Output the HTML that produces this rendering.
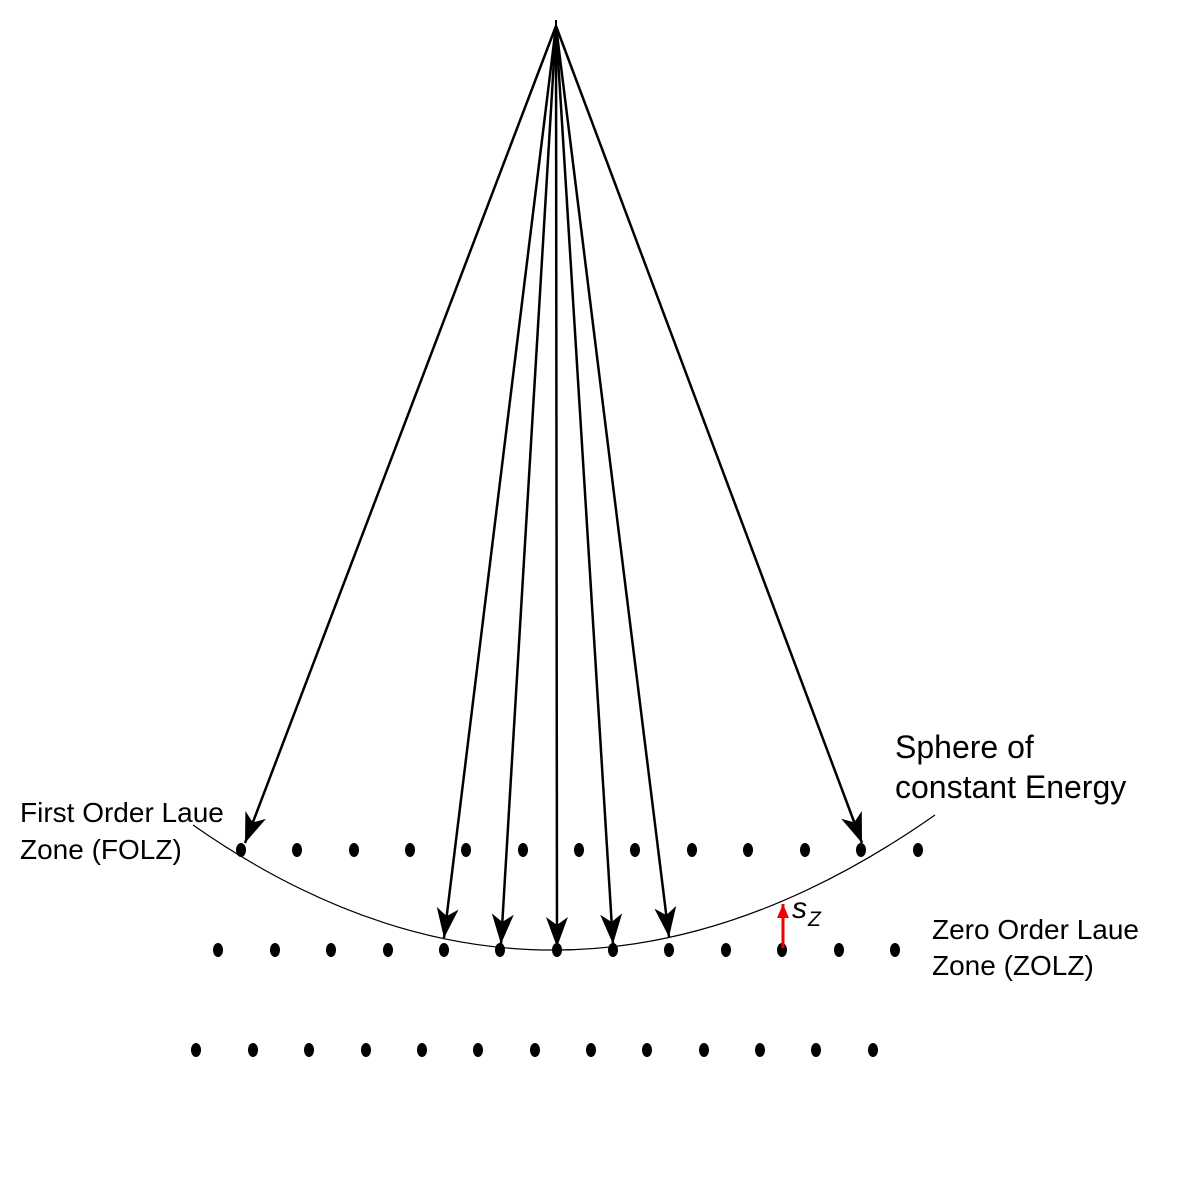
<!DOCTYPE html>
<html><head><meta charset="utf-8"><style>
html,body{margin:0;padding:0;background:#fff;}
svg{display:block;}
text{font-family:"Liberation Sans",sans-serif;fill:#000;}
</style></head><body>
<svg width="1182" height="1192" viewBox="0 0 1182 1192" xmlns="http://www.w3.org/2000/svg">
<defs>
<marker id="ah" markerUnits="userSpaceOnUse" markerWidth="34" markerHeight="26" refX="30" refY="11" orient="auto">
<path d="M0,0 L30,11 L0,22 L8,11 Z" fill="#000"/>
</marker>
<marker id="rh" markerUnits="userSpaceOnUse" markerWidth="16" markerHeight="14" refX="14" refY="6" orient="auto">
<path d="M0,0 L14,6 L0,12 Z" fill="#e00"/>
</marker>
</defs>
<line x1="556" y1="20" x2="556" y2="32" stroke="#000" stroke-width="2"/>
<path d="M193,825 Q557,1080 935,815" fill="none" stroke="#000" stroke-width="1.2"/>
<g stroke="#000" stroke-width="2.5" fill="none" marker-end="url(#ah)">
<line x1="556" y1="26" x2="245" y2="843"/>
<line x1="556" y1="26" x2="444" y2="938"/>
<line x1="556" y1="26" x2="501" y2="944"/>
<line x1="556" y1="26" x2="557" y2="947"/>
<line x1="556" y1="26" x2="613" y2="944"/>
<line x1="556" y1="26" x2="669" y2="937"/>
<line x1="556" y1="26" x2="862" y2="843"/>
</g>
<g fill="#000">
<ellipse cx="241" cy="850" rx="5" ry="7"/><ellipse cx="297" cy="850" rx="5" ry="7"/><ellipse cx="354" cy="850" rx="5" ry="7"/><ellipse cx="410" cy="850" rx="5" ry="7"/><ellipse cx="466" cy="850" rx="5" ry="7"/><ellipse cx="523" cy="850" rx="5" ry="7"/><ellipse cx="579" cy="850" rx="5" ry="7"/><ellipse cx="635" cy="850" rx="5" ry="7"/><ellipse cx="692" cy="850" rx="5" ry="7"/><ellipse cx="748" cy="850" rx="5" ry="7"/><ellipse cx="805" cy="850" rx="5" ry="7"/><ellipse cx="861" cy="850" rx="5" ry="7"/><ellipse cx="918" cy="850" rx="5" ry="7"/>
<ellipse cx="218" cy="950" rx="5" ry="7"/><ellipse cx="275" cy="950" rx="5" ry="7"/><ellipse cx="331" cy="950" rx="5" ry="7"/><ellipse cx="388" cy="950" rx="5" ry="7"/><ellipse cx="444" cy="950" rx="5" ry="7"/><ellipse cx="500" cy="950" rx="5" ry="7"/><ellipse cx="557" cy="950" rx="5" ry="7"/><ellipse cx="613" cy="950" rx="5" ry="7"/><ellipse cx="669" cy="950" rx="5" ry="7"/><ellipse cx="726" cy="950" rx="5" ry="7"/><ellipse cx="782" cy="950" rx="5" ry="7"/><ellipse cx="839" cy="950" rx="5" ry="7"/><ellipse cx="895" cy="950" rx="5" ry="7"/>
<ellipse cx="196" cy="1050" rx="5" ry="7"/><ellipse cx="253" cy="1050" rx="5" ry="7"/><ellipse cx="309" cy="1050" rx="5" ry="7"/><ellipse cx="366" cy="1050" rx="5" ry="7"/><ellipse cx="422" cy="1050" rx="5" ry="7"/><ellipse cx="478" cy="1050" rx="5" ry="7"/><ellipse cx="535" cy="1050" rx="5" ry="7"/><ellipse cx="591" cy="1050" rx="5" ry="7"/><ellipse cx="647" cy="1050" rx="5" ry="7"/><ellipse cx="704" cy="1050" rx="5" ry="7"/><ellipse cx="760" cy="1050" rx="5" ry="7"/><ellipse cx="816" cy="1050" rx="5" ry="7"/><ellipse cx="873" cy="1050" rx="5" ry="7"/>
</g>
<line x1="783" y1="948" x2="783" y2="904" stroke="#e00" stroke-width="3" marker-end="url(#rh)"/>
<text x="792" y="918" font-family="Liberation Serif,serif" font-style="italic" font-size="30">s</text>
<text x="808" y="926" font-family="Liberation Serif,serif" font-style="italic" font-size="21">Z</text>
<text x="20" y="822" font-size="28">First Order Laue</text>
<text x="20" y="859" font-size="28">Zone (FOLZ)</text>
<text x="895" y="758" font-size="32">Sphere of</text>
<text x="895" y="798" font-size="32">constant Energy</text>
<text x="932" y="939" font-size="28">Zero Order Laue</text>
<text x="932" y="975" font-size="28">Zone (ZOLZ)</text>
</svg>
</body></html>
